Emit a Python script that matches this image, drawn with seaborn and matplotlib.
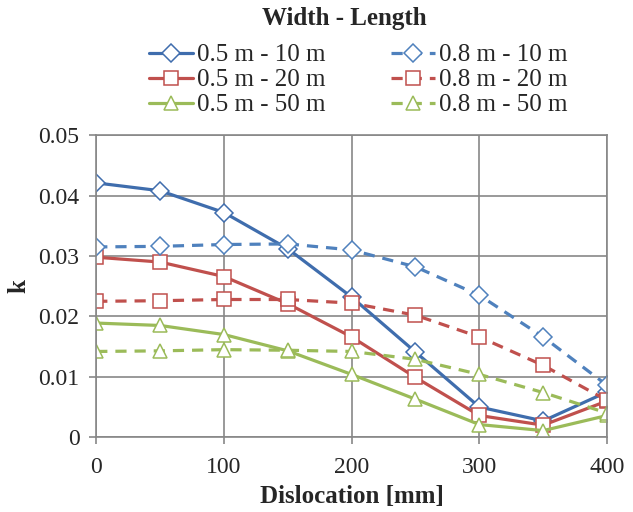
import numpy as np
import pandas as pd
import seaborn as sns
import matplotlib
matplotlib.use("Agg")
import matplotlib.pyplot as plt
from matplotlib.ticker import FuncFormatter

# ---- data ----
dislocation = [0, 50, 100, 150, 200, 250, 300, 350, 400]

k_05_10 = [0.0421, 0.0408, 0.0372, 0.0312, 0.0232, 0.0141, 0.0050, 0.0027, 0.0075]
k_05_20 = [0.0298, 0.0290, 0.0266, 0.0221, 0.0166, 0.0099, 0.0036, 0.0020, 0.0060]
k_05_50 = [0.0189, 0.0185, 0.0170, 0.0143, 0.0104, 0.0063, 0.0021, 0.0011, 0.0036]
k_08_10 = [0.0315, 0.0316, 0.0319, 0.0320, 0.0310, 0.0282, 0.0235, 0.0166, 0.0086]
k_08_20 = [0.0225, 0.0226, 0.0228, 0.0228, 0.0222, 0.0202, 0.0166, 0.0119, 0.0061]
k_08_50 = [0.0142, 0.0143, 0.0145, 0.0144, 0.0142, 0.0129, 0.0104, 0.0074, 0.0040]

series_names = ["0.5 m - 10 m", "0.5 m - 20 m", "0.5 m - 50 m",
                "0.8 m - 10 m", "0.8 m - 20 m", "0.8 m - 50 m"]
series_values = [k_05_10, k_05_20, k_05_50, k_08_10, k_08_20, k_08_50]

frames = [pd.DataFrame({"Dislocation": dislocation, "k": vals, "Series": name})
          for name, vals in zip(series_names, series_values)]
data = pd.concat(frames, ignore_index=True)

# ---- styles ----
BLUE_S, BLUE_D = "#3F6DAD", "#4F81BD"
RED, GREEN = "#C0504D", "#9BBB59"
palette = dict(zip(series_names, [BLUE_S, RED, GREEN, BLUE_D, RED, GREEN]))
markers = dict(zip(series_names, ["D", "s", "^", "D", "s", "^"]))
dashes = dict(zip(series_names, ["", "", "", (3.5, 2.5), (3.5, 2.5), (3.5, 2.5)]))

sns.set_theme(style="white")
plt.rcParams["font.family"] = ["Liberation Serif", "DejaVu Serif"]

fig = plt.figure(figsize=(6.33, 5.12), dpi=100)
ax = fig.add_axes([0.152, 0.146, 0.807, 0.590])

sns.lineplot(data=data, x="Dislocation", y="k", hue="Series", style="Series",
             hue_order=series_names, style_order=series_names,
             palette=palette, markers=markers, dashes=dashes,
             linewidth=2.3, markersize=10, legend=False, ax=ax)

for line in ax.get_lines():
    line.set_markerfacecolor("white")
    line.set_markeredgecolor(line.get_color())
    line.set_markeredgewidth(1.1)
    if line.get_marker() == "D":
        line.set_markersize(9)

ax.set_xlim(0, 400)
ax.set_ylim(0, 0.05)
ax.set_xticks(np.arange(0, 401, 100))
ax.set_yticks(np.arange(0, 0.0501, 0.01))
ax.yaxis.set_major_formatter(FuncFormatter(lambda v, p: "0" if abs(v) < 1e-9 else f"{v:.2f}"))

ax.grid(True, color="#878787", linewidth=1.2)
ax.set_axisbelow(True)
for sp in ax.spines.values():
    sp.set_color("#878787")
    sp.set_linewidth(1.2)
ax.tick_params(axis="both", direction="out", length=5, width=1.2, color="#878787",
               labelsize=17, bottom=True, left=True)
ax.tick_params(axis="x", pad=9)
ax.tick_params(axis="y", pad=7)

ax.set_xlabel("Dislocation [mm]", fontsize=18, fontweight="bold", labelpad=5)
ax.set_ylabel("k", fontsize=18, fontweight="bold", labelpad=6)

# legend title sits a bit left of the legend centre in the original
fig.text(344 / 633, 1 - 18 / 512, "Width - Length", fontsize=18, fontweight="bold",
         ha="center", va="center")

fig.legend(handles=ax.get_lines(), labels=series_names, ncol=2,
           loc="upper center", bbox_to_anchor=(0.566, 1 - 30 / 512), frameon=False,
           fontsize=18, handlelength=1.75, handletextpad=0.18,
           columnspacing=2.6, labelspacing=0.1, borderpad=0.05)

fig.savefig("out.png", dpi=100)
